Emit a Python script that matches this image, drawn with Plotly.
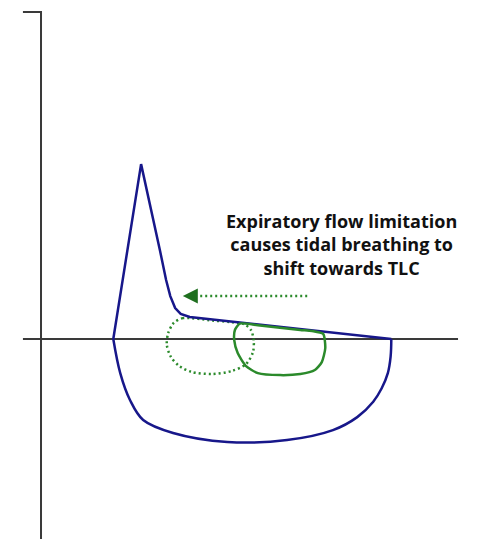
import plotly.graph_objects as go

# Flow-volume loop: volume (L) on x, flow (L/s) on y (expiration positive)
exp_vol = [1.04, 1.44, 1.71, 1.80, 1.86, 1.93, 2.01, 2.14, 5.04]
exp_flow = [0.00, 7.95, 4.05, 2.68, 1.95, 1.41, 1.14, 1.00, 0.00]

insp_vol = [5.04, 5.03, 4.99, 4.90, 4.78, 4.55, 4.20, 3.54, 2.68, 1.90, 1.47, 1.28, 1.14, 1.04]
insp_flow = [0.00, -0.80, -1.55, -2.25, -2.85, -3.55, -4.14, -4.59, -4.68, -4.27, -3.68, -2.77, -1.55, 0.00]

# Tidal loop during flow limitation (shifted toward TLC)
tidal_vol = [3.73, 3.15, 2.86, 2.79, 2.78, 2.83, 2.95, 3.12, 3.44, 3.73, 3.94, 4.04, 4.09, 4.06, 3.90, 3.73]
tidal_flow = [0.41, 0.61, 0.70, 0.41, -0.05, -0.64, -1.23, -1.55, -1.64, -1.59, -1.41, -1.05, -0.41, 0.23, 0.36, 0.41]

# Normal tidal loop position
tidal0_vol = [2.46, 2.04, 1.91, 1.83, 1.81, 1.87, 1.99, 2.17, 2.46, 2.75, 2.95, 3.05, 3.06, 3.02, 2.92, 2.72, 2.46]
tidal0_flow = [0.84, 0.95, 0.73, 0.27, -0.27, -0.82, -1.23, -1.50, -1.59, -1.45, -1.14, -0.59, -0.05, 0.41, 0.68, 0.77, 0.84]

# Axis frame lines
axis_v_x = [-0.26, 0.0, 0.0]
axis_v_y = [14.86, 14.86, -9.2]
axis_h_x = [-0.26, 6.0]
axis_h_y = [0.0, 0.0]

# Shift arrow (dotted shaft, dart head)
arrow_x = [3.83, 2.25]
arrow_y = [1.95, 1.95]
arrow_head_x = 2.04

label = "Expiratory flow limitation<br>causes tidal breathing to<br>shift towards TLC"
label_x, label_y = 4.32, 4.30

AXIS = "#3a3a3a"
BLUE = "#17178a"
GREEN = "#2b8a2b"
DARK_GREEN = "#1f6f1f"

fig = go.Figure()
fig.add_trace(go.Scatter(x=axis_v_x, y=axis_v_y, mode="lines",
                         line=dict(color=AXIS, width=2), hoverinfo="skip"))
fig.add_trace(go.Scatter(x=axis_h_x, y=axis_h_y, mode="lines",
                         line=dict(color=AXIS, width=2), hoverinfo="skip"))
fig.add_trace(go.Scatter(x=tidal0_vol, y=tidal0_flow, mode="lines",
                         line=dict(color=GREEN, width=2.5, dash="2px,3px", shape="spline", smoothing=0.8),
                         hoverinfo="skip"))
fig.add_trace(go.Scatter(x=exp_vol, y=exp_flow, mode="lines",
                         line=dict(color=BLUE, width=2.5), hoverinfo="skip"))
fig.add_trace(go.Scatter(x=insp_vol, y=insp_flow, mode="lines",
                         line=dict(color=BLUE, width=2.5, shape="spline", smoothing=1.0),
                         hoverinfo="skip"))
fig.add_trace(go.Scatter(x=tidal_vol, y=tidal_flow, mode="lines",
                         line=dict(color=GREEN, width=2.5, shape="spline", smoothing=0.6),
                         hoverinfo="skip"))
fig.add_trace(go.Scatter(x=arrow_x, y=arrow_y, mode="lines",
                         line=dict(color=GREEN, width=2.5, dash="2px,3px"), hoverinfo="skip"))
# Arrow head as a dart-shaped marker
fig.add_trace(go.Scatter(x=[arrow_head_x], y=[arrow_y[1]], mode="markers",
                         marker=dict(symbol="arrow-left", size=15, color=DARK_GREEN,
                                     line=dict(width=0)),
                         hoverinfo="skip"))

fig.add_annotation(x=label_x, y=label_y, xref="x", yref="y", text=label,
                   showarrow=False, align="center",
                   font=dict(family="Open Sans", size=18, color="#111111", weight="bold"))

fig.update_layout(
    width=485, height=539,
    margin=dict(l=0, r=0, t=0, b=0),
    paper_bgcolor="white", plot_bgcolor="white",
    showlegend=False,
    xaxis=dict(range=[-0.59, 6.388], visible=False, fixedrange=True),
    yaxis=dict(range=[-9.09, 15.41], visible=False, fixedrange=True),
)

fig.write_html("out.html")
